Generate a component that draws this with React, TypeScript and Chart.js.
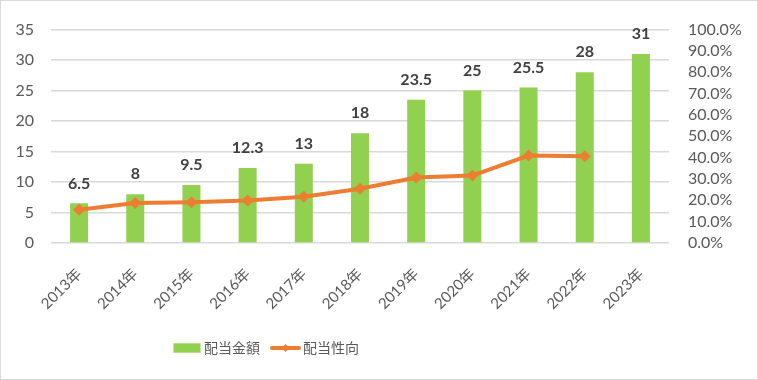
import React, { useEffect, useRef } from "react";
import { Chart, registerables } from "chart.js";

Chart.register(...registerables);

const categories = ["2013年", "2014年", "2015年", "2016年", "2017年", "2018年", "2019年", "2020年", "2021年", "2022年", "2023年"];
const dividendAmount = [6.5, 8, 9.5, 12.3, 13, 18, 23.5, 25, 25.5, 28, 31];
const payoutRatio = [0.156, 0.187, 0.191, 0.199, 0.217, 0.254, 0.307, 0.316, 0.41, 0.406, null];
const amountLabels = ["6.5", "8", "9.5", "12.3", "13", "18", "23.5", "25", "25.5", "28", "31"];
const seriesNames = ["配当金額", "配当性向"];

const GREEN = "#92D050";
const ORANGE = "#ED7D31";
const TEXT = "#595959";
const GRID = "#D9D9D9";
const FONT = "Lato, 'Noto Sans CJK JP', sans-serif";
const CJK = "'Noto Sans CJK JP', sans-serif";

const labelPlugin = {
  id: "barLabels",
  afterDatasetsDraw(chart: any) {
    const ctx = chart.ctx;
    const meta = chart.getDatasetMeta(0);
    ctx.save();
    ctx.font = "bold 16px " + FONT;
    ctx.fillStyle = "#404040";
    ctx.textAlign = "center";
    ctx.textBaseline = "middle";
    meta.data.forEach((bar: any, i: number) => {
      ctx.fillText(amountLabels[i], bar.x, bar.y - 20);
    });
    ctx.restore();
  },
};

const legendPlugin = {
  id: "customLegend",
  afterDraw(chart: any) {
    const ctx = chart.ctx;
    const y = 347;
    ctx.save();
    ctx.fillStyle = GREEN;
    ctx.fillRect(172.5, y - 4.7, 27, 9.4);
    ctx.font = "14px " + CJK;
    ctx.fillStyle = TEXT;
    ctx.textAlign = "left";
    ctx.textBaseline = "middle";
    ctx.fillText(seriesNames[0], 203, y);
    ctx.strokeStyle = ORANGE;
    ctx.lineWidth = 4;
    ctx.lineCap = "round";
    ctx.beginPath();
    ctx.moveTo(271, y);
    ctx.lineTo(298, y);
    ctx.stroke();
    ctx.fillStyle = ORANGE;
    ctx.beginPath();
    ctx.moveTo(284.5, y - 4);
    ctx.lineTo(288.5, y);
    ctx.lineTo(284.5, y + 4);
    ctx.lineTo(280.5, y);
    ctx.closePath();
    ctx.fill();
    ctx.fillStyle = TEXT;
    ctx.fillText(seriesNames[1], 302, y);
    ctx.restore();
  },
};

export default function App() {
  const ref = useRef<HTMLCanvasElement>(null);
  useEffect(() => {
    if (!ref.current) return;
    const chart = new Chart(ref.current, {
      type: "bar",
      data: {
        labels: categories,
        datasets: [
          {
            type: "bar",
            label: seriesNames[0],
            data: dividendAmount,
            backgroundColor: GREEN,
            categoryPercentage: 1,
            barPercentage: 0.32,
            yAxisID: "y",
            order: 1,
          },
          {
            type: "line",
            label: seriesNames[1],
            data: payoutRatio as any,
            borderColor: ORANGE,
            backgroundColor: ORANGE,
            borderWidth: 4,
            pointStyle: "rectRot",
            pointRadius: 6,
            pointBorderWidth: 0,
            pointBackgroundColor: ORANGE,
            tension: 0,
            yAxisID: "y1",
            order: 0,
          },
        ],
      },
      options: {
        responsive: false,
        animation: false,
        layout: { padding: { top: 23, left: 0, right: 0, bottom: 0 } },
        plugins: { legend: { display: false }, tooltip: { enabled: false } },
        scales: {
          x: {
            grid: { display: false },
            border: { display: false },
            ticks: {
              color: TEXT,
              font: { size: 15, family: FONT },
              minRotation: 45,
              maxRotation: 45,
              autoSkip: false,
              padding: 14,
            },
            afterFit(scale: any) {
              scale.height = 136;
            },
          },
          y: {
            position: "left",
            min: 0,
            max: 35,
            ticks: { stepSize: 5, autoSkip: false, color: TEXT, font: { size: 16, family: FONT }, padding: 17 },
            grid: { color: GRID, lineWidth: 1.5, drawTicks: false },
            border: { display: false },
            afterFit(scale: any) {
              scale.width = 50;
            },
          },
          y1: {
            position: "right",
            min: 0,
            max: 1,
            ticks: {
              stepSize: 0.1,
              autoSkip: false,
              color: TEXT,
              font: { size: 16, family: FONT },
              padding: 19,
              callback: (v: any) => (Number(v) * 100).toFixed(1) + "%",
            },
            grid: { display: false, drawTicks: false },
            border: { display: false },
            afterFit(scale: any) {
              scale.width = 88;
            },
          },
        },
      },
      plugins: [labelPlugin, legendPlugin],
    });
    return () => chart.destroy();
  }, []);
  return (
    <div
      style={{
        position: "fixed",
        left: 0,
        top: 0,
        width: 758,
        height: 380,
        boxSizing: "border-box",
        border: "1px solid #D9D9D9",
        background: "#fff",
      }}
    >
      <canvas ref={ref} width={756} height={378} style={{ display: "block" }} />
    </div>
  );
}
